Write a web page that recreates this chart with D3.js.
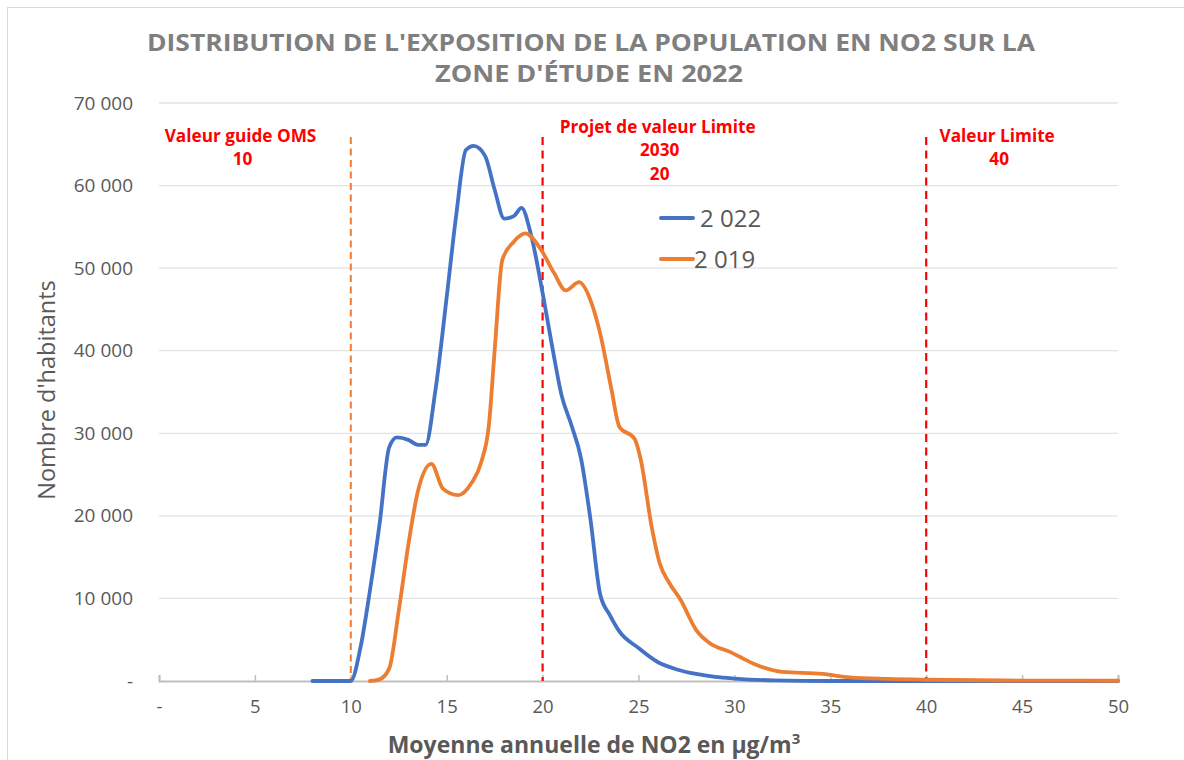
<!DOCTYPE html>
<html>
<head>
<meta charset="utf-8">
<script src="https://cdn.jsdelivr.net/npm/d3@7"></script>
<style>
  body { margin: 0; background: #fff; }
  svg { display: block; }
  text { font-family: "Open Sans", "Liberation Sans", sans-serif; }
</style>
</head>
<body>
<svg id="chart" width="1184" height="760"></svg>
<script>
// data
const xTicks = [0, 5, 10, 15, 20, 25, 30, 35, 40, 45, 50];
const yTicks = [0, 10000, 20000, 30000, 40000, 50000, 60000, 70000];
const seriesNames = ["2 022", "2 019"];

const expo2022 = [
  [8, 0], [9, 0], [10, 0], [10.5, 4000], [11, 11000], [11.5, 19000], [12, 28300],
  [12.4, 29500], [13, 29200], [13.5, 28600], [13.9, 28600], [14.4, 35000], [15, 46500],
  [15.5, 56500], [16, 64300], [16.4, 64800], [17, 63600], [17.5, 59500], [18, 56000],
  [18.5, 56300], [18.9, 57300], [19.4, 54000], [20, 47000], [20.5, 40500], [21, 34500],
  [21.5, 31000], [22, 27000], [22.5, 19500], [23, 10500], [23.5, 8000], [24, 6000],
  [25, 4000], [26, 2300], [27, 1400], [28, 850], [29, 500], [30, 300], [32, 80],
  [35, 0], [40, 0], [45, 0], [50, 0]
];

const expo2019 = [
  [11, 0], [11.5, 200], [12, 1500], [12.5, 8500], [13, 16500], [13.5, 23000],
  [14.2, 26300], [14.8, 23300], [15.6, 22500], [16.3, 24000], [16.8, 26500], [17.2, 31000],
  [17.5, 40000], [17.9, 51000], [18.5, 53200], [19.1, 54200], [19.9, 52300], [20.6, 49400],
  [21.2, 47300], [21.9, 48300], [22.5, 46100], [23, 42100], [23.6, 35200], [24, 30800],
  [24.8, 29300], [25.1, 27000], [25.7, 18500], [26.1, 14300], [26.6, 11900], [27.2, 9800],
  [28, 6200], [28.7, 4600], [29.8, 3500], [30.3, 2900], [31.2, 1900], [32.5, 1100],
  [34.6, 850], [35.1, 700], [36, 450], [38, 250], [40, 150], [45, 50], [50, 30]
];

const refValues = [10, 20, 40];
const refLabels = [
  ["Valeur guide OMS", "10"],
  ["Projet de valeur Limite", "2030", "20"],
  ["Valeur Limite", "40"]
];

// settings
const margin = { top: 103, right: 66, bottom: 79, left: 159 };
const width = 1184, height = 760;
const plotWidth = width - margin.left - margin.right;
const plotHeight = height - margin.top - margin.bottom;
const seriesColors = ["#4472C4", "#ED7D31"];
const refColors = ["#ED7D31", "#FF0000", "#FF0000"];
const textGray = "#595959";

const svg = d3.select("#chart");

// frame
svg.append("rect")
  .attr("x", 7.5).attr("y", 7.5)
  .attr("width", 1300).attr("height", 900)
  .attr("fill", "none")
  .attr("stroke", "#d9d9d9");

const plot = svg.append("g")
  .attr("transform", `translate(${margin.left}, ${margin.top})`);

// scales
const xScale = d3.scaleLinear().domain([0, 50]).range([0, plotWidth]);
const yScale = d3.scaleLinear().domain([0, 70000]).range([plotHeight, 0]);

const fmtY = (d) => (d === 0 ? "-" : d3.format(",")(d).replace(/,/g, " "));
const fmtX = (d) => (d === 0 ? "-" : d);

// gridlines
plot.append("g")
  .selectAll("line")
  .data(yTicks.filter((d) => d > 0))
  .join("line")
  .attr("x1", 0).attr("x2", plotWidth)
  .attr("y1", (d) => yScale(d)).attr("y2", (d) => yScale(d))
  .attr("stroke", "#e3e3e3")
  .attr("stroke-width", 1.3);

// y axis
const yAxisG = plot.append("g")
  .call(d3.axisLeft(yScale).tickValues(yTicks).tickSize(0).tickPadding(26).tickFormat(fmtY));
yAxisG.select(".domain").remove();
yAxisG.selectAll("text")
  .attr("font-size", 19)
  .attr("fill", textGray)
  .attr("font-family", "Open Sans");

// x axis
const xAxisG = plot.append("g")
  .attr("transform", `translate(0, ${plotHeight})`)
  .call(d3.axisBottom(xScale).tickValues(xTicks).tickSize(-6).tickPadding(19).tickFormat(fmtX));
xAxisG.select(".domain").attr("stroke", "#bfbfbf").attr("stroke-width", 2);
xAxisG.selectAll(".tick line").attr("stroke", "#bfbfbf").attr("stroke-width", 1.5);
xAxisG.selectAll("text")
  .attr("font-size", 18.5)
  .attr("fill", textGray)
  .attr("font-family", "Open Sans");

// reference lines
plot.append("g")
  .selectAll("line")
  .data(refValues)
  .join("line")
  .attr("x1", (d) => xScale(d)).attr("x2", (d) => xScale(d))
  .attr("y1", 34).attr("y2", plotHeight)
  .attr("stroke", (d, i) => refColors[i])
  .attr("stroke-width", (d, i) => (i === 0 ? 2 : 2.2))
  .attr("stroke-dasharray", (d, i) => (i === 0 ? "7,4.5" : "8,5.5"));

// reference labels
const labelAnchors = [[4.25, 39], [26, 30], [43.7, 39]];
refLabels.forEach((lines, i) => {
  const t = plot.append("text")
    .attr("x", xScale(labelAnchors[i][0]))
    .attr("y", labelAnchors[i][1])
    .attr("text-anchor", "middle")
    .attr("font-size", 17.2)
    .attr("font-weight", "bold")
    .attr("fill", "#FF0000");
  lines.forEach((s, j) => {
    t.append("tspan")
      .attr("x", xScale(labelAnchors[i][0]) + (j > 0 ? 2 : 0))
      .attr("dy", j === 0 ? 0 : 23.3)
      .text(s);
  });
});

// lines
const lineGen = d3.line()
  .curve(d3.curveMonotoneX)
  .x((d) => xScale(d[0]))
  .y((d) => yScale(d[1]));

const series = [expo2022, expo2019];
plot.selectAll(".series")
  .data(series)
  .join("path")
  .attr("class", "series")
  .attr("d", lineGen)
  .attr("fill", "none")
  .attr("stroke", (d, i) => seriesColors[i])
  .attr("stroke-width", 3.8)
  .attr("stroke-linejoin", "round")
  .attr("stroke-linecap", "round");

// legend
const legend = svg.append("g");
const legendRows = [
  { y: 218, textX: 700 },
  { y: 259, textX: 694 }
];
seriesNames.forEach((name, i) => {
  legend.append("line")
    .attr("x1", 661).attr("x2", 693)
    .attr("y1", legendRows[i].y).attr("y2", legendRows[i].y)
    .attr("stroke", seriesColors[i])
    .attr("stroke-width", 4)
    .attr("stroke-linecap", "round");
  legend.append("text")
    .attr("x", legendRows[i].textX)
    .attr("y", legendRows[i].y + 9)
    .attr("font-size", 24)
    .attr("fill", textGray)
    .text(name);
});

// title
svg.append("text")
  .attr("x", 591).attr("y", 51)
  .attr("text-anchor", "middle")
  .attr("font-size", 23)
  .attr("font-weight", "bold")
  .attr("fill", "#7f7f7f")
  .attr("textLength", 888)
  .attr("lengthAdjust", "spacingAndGlyphs")
  .text("DISTRIBUTION DE L'EXPOSITION DE LA POPULATION EN NO2 SUR LA");
svg.append("text")
  .attr("x", 589).attr("y", 82)
  .attr("text-anchor", "middle")
  .attr("font-size", 23)
  .attr("font-weight", "bold")
  .attr("fill", "#7f7f7f")
  .attr("textLength", 308)
  .attr("lengthAdjust", "spacingAndGlyphs")
  .text("ZONE D'ÉTUDE EN 2022");

// axis titles
const xTitle = svg.append("text")
  .attr("x", 594).attr("y", 753)
  .attr("text-anchor", "middle")
  .attr("font-size", 23)
  .attr("font-weight", "bold")
  .attr("fill", textGray);
xTitle.append("tspan").text("Moyenne annuelle de NO2 en µg/m");
xTitle.append("tspan").attr("font-size", 15).attr("dy", -9).text("3");

svg.append("text")
  .attr("transform", "translate(55, 390) rotate(-90)")
  .attr("text-anchor", "middle")
  .attr("font-size", 23.5)
  .attr("fill", textGray)
  .text("Nombre d'habitants");
</script>
</body>
</html>
